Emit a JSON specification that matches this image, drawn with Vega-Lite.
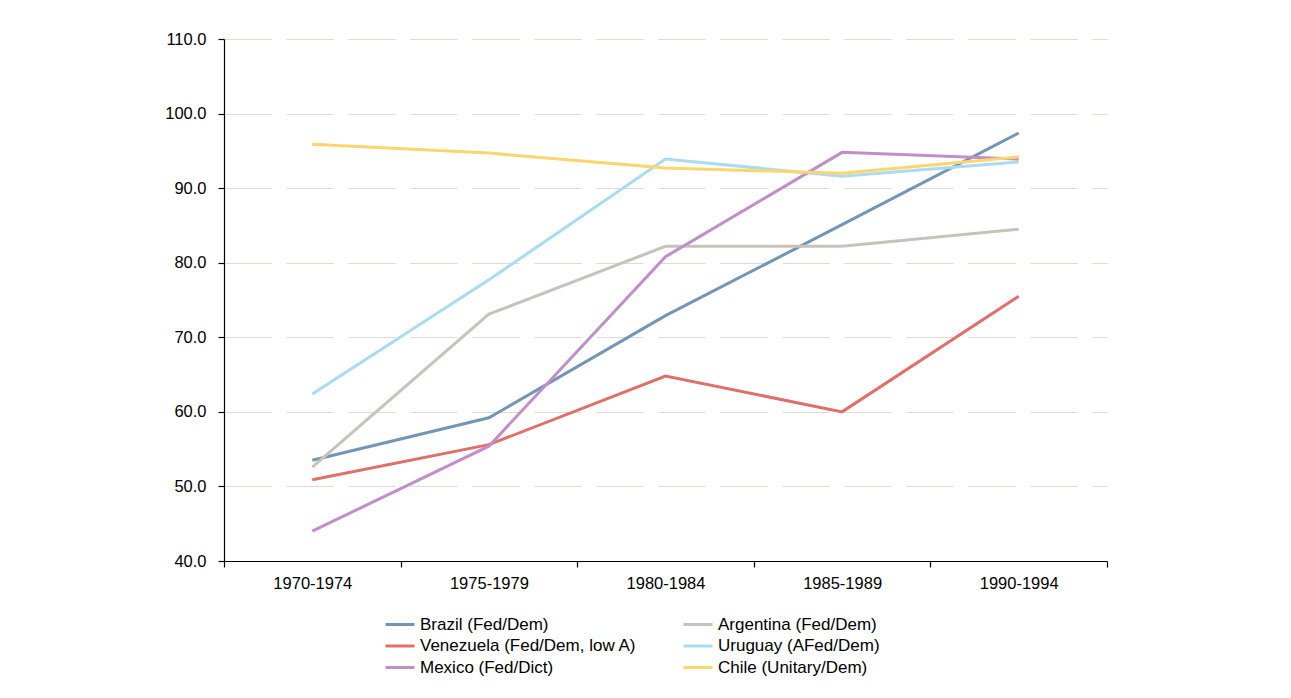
{
  "$schema": "https://vega.github.io/schema/vega-lite/v6.json",
  "autosize": "none",
  "width": 883,
  "height": 522,
  "padding": {"left": 224, "top": 39, "right": 184, "bottom": 137},
  "background": "white",
  "data": {
    "values": [
      {"period": "1970-1974", "country": "Brazil (Fed/Dem)", "value": 53.5},
      {"period": "1975-1979", "country": "Brazil (Fed/Dem)", "value": 59.2},
      {"period": "1980-1984", "country": "Brazil (Fed/Dem)", "value": 72.9},
      {"period": "1985-1989", "country": "Brazil (Fed/Dem)", "value": 85.1},
      {"period": "1990-1994", "country": "Brazil (Fed/Dem)", "value": 97.4},
      {"period": "1970-1974", "country": "Argentina (Fed/Dem)", "value": 52.6},
      {"period": "1975-1979", "country": "Argentina (Fed/Dem)", "value": 73.1},
      {"period": "1980-1984", "country": "Argentina (Fed/Dem)", "value": 82.2},
      {"period": "1985-1989", "country": "Argentina (Fed/Dem)", "value": 82.2},
      {"period": "1990-1994", "country": "Argentina (Fed/Dem)", "value": 84.5},
      {"period": "1970-1974", "country": "Venezuela (Fed/Dem, low A)", "value": 50.9},
      {"period": "1975-1979", "country": "Venezuela (Fed/Dem, low A)", "value": 55.6},
      {"period": "1980-1984", "country": "Venezuela (Fed/Dem, low A)", "value": 64.8},
      {"period": "1985-1989", "country": "Venezuela (Fed/Dem, low A)", "value": 60.0},
      {"period": "1990-1994", "country": "Venezuela (Fed/Dem, low A)", "value": 75.5},
      {"period": "1970-1974", "country": "Uruguay (AFed/Dem)", "value": 62.4},
      {"period": "1975-1979", "country": "Uruguay (AFed/Dem)", "value": 77.7},
      {"period": "1980-1984", "country": "Uruguay (AFed/Dem)", "value": 93.9},
      {"period": "1985-1989", "country": "Uruguay (AFed/Dem)", "value": 91.6},
      {"period": "1990-1994", "country": "Uruguay (AFed/Dem)", "value": 93.5},
      {"period": "1970-1974", "country": "Mexico (Fed/Dict)", "value": 44.0},
      {"period": "1975-1979", "country": "Mexico (Fed/Dict)", "value": 55.4},
      {"period": "1980-1984", "country": "Mexico (Fed/Dict)", "value": 80.8},
      {"period": "1985-1989", "country": "Mexico (Fed/Dict)", "value": 94.8},
      {"period": "1990-1994", "country": "Mexico (Fed/Dict)", "value": 93.9},
      {"period": "1970-1974", "country": "Chile (Unitary/Dem)", "value": 95.9},
      {"period": "1975-1979", "country": "Chile (Unitary/Dem)", "value": 94.7},
      {"period": "1980-1984", "country": "Chile (Unitary/Dem)", "value": 92.7},
      {"period": "1985-1989", "country": "Chile (Unitary/Dem)", "value": 92.0},
      {"period": "1990-1994", "country": "Chile (Unitary/Dem)", "value": 94.2}
    ]
  },
  "mark": {"type": "line", "strokeWidth": 3},
  "encoding": {
    "x": {
      "field": "period",
      "type": "ordinal",
      "bandPosition": 0.5,
      "scale": {"type": "band", "paddingInner": 0, "paddingOuter": 0},
      "axis": {
        "title": null,
        "labelAngle": 0,
        "tickBand": "extent",
        "grid": false,
        "domainColor": "black",
        "tickColor": "black",
        "tickSize": 6,
        "labelFont": "Liberation Sans",
        "labelFontSize": 16.5,
        "labelColor": "black",
        "labelPadding": 8
      }
    },
    "y": {
      "field": "value",
      "type": "quantitative",
      "scale": {"domain": [40, 110], "nice": false, "zero": false},
      "axis": {
        "title": null,
        "values": [40, 50, 60, 70, 80, 90, 100, 110],
        "format": ".1f",
        "grid": true,
        "gridColor": "#dedbd6",
        "gridDash": [47, 15],
        "gridWidth": 1.2,
        "domainColor": "black",
        "tickColor": "black",
        "tickSize": 6,
        "labelFont": "Liberation Sans",
        "labelFontSize": 16.5,
        "labelColor": "black",
        "labelPadding": 12
      }
    },
    "color": {
      "field": "country",
      "type": "nominal",
      "scale": {
        "domain": ["Brazil (Fed/Dem)", "Venezuela (Fed/Dem, low A)", "Mexico (Fed/Dict)", "Argentina (Fed/Dem)", "Uruguay (AFed/Dem)", "Chile (Unitary/Dem)"],
        "range": ["#7396b5", "#df6f69", "#c08ec9", "#c8c2bb", "#a9dcef", "#fdd56f"]
      },
      "legend": {
        "title": null,
        "orient": "none",
        "legendX": 160,
        "legendY": 575,
        "columns": 2,
        "columnPadding": 45,
        "rowPadding": 0.5,
        "clipHeight": 21,
        "symbolType": "stroke",
        "symbolSize": 841,
        "symbolStrokeWidth": 3,
        "labelOffset": 4,
        "labelFont": "Liberation Sans",
        "labelFontSize": 17,
        "labelColor": "black",
        "labelLimit": 400
      }
    }
  },
  "config": {
    "view": {"stroke": null},
    "axis": {"domainWidth": 1.2, "tickWidth": 1.2}
  }
}
